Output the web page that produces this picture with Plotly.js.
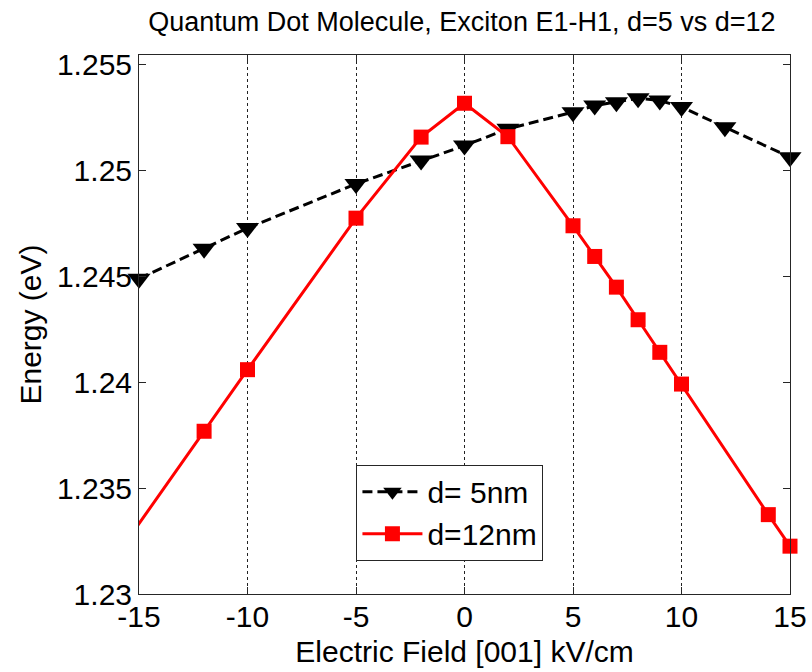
<!DOCTYPE html>
<html>
<head>
<meta charset="utf-8">
<script src="https://cdn.plot.ly/plotly-3.0.1.min.js"></script>
<style>
  html, body { margin: 0; padding: 0; background: #ffffff; }
  #chart { width: 812px; height: 672px; }
</style>
</head>
<body>
<div id="chart"></div>
<script>
// Exciton E1-H1 energy of a quantum dot molecule versus applied field
const fieldD5 = [-15, -12, -10, -5, -2, 0, 2, 5, 6, 7, 8, 9, 10, 12, 15];
const energyD5 = [1.24490, 1.24632, 1.24729, 1.24938, 1.25048, 1.25119, 1.25198,
                  1.25277, 1.25308, 1.25324, 1.25343, 1.25332, 1.25301, 1.25206, 1.25064];

// d = 12 nm run starts below the plotted field window
const fieldD12 = [-16, -12, -10, -5, -2, 0, 2, 5, 6, 7, 8, 9, 10, 14, 15];
const energyD12 = [1.23187, 1.23769, 1.24060, 1.24776, 1.25159, 1.25319, 1.25161,
                   1.24740, 1.24595, 1.24450, 1.24296, 1.24142, 1.23992, 1.23375, 1.23226];

const xTicks = [-15, -10, -5, 0, 5, 10, 15];
const xTickText = ['-15', '-10', '-5', '0', '5', '10', '15'];
const yTicks = [1.23, 1.235, 1.24, 1.245, 1.25, 1.255];
const yTickText = ['1.23', '1.235', '1.24', '1.245', '1.25', '1.255'];

const seriesNames = ['d= 5nm', 'd=12nm'];

const FONT = 'Liberation Sans, Arial, Helvetica, sans-serif';
const AXIS_COLOR = '#262626';

const traces = [
  {
    x: fieldD5, y: energyD5, name: seriesNames[0],
    type: 'scatter', mode: 'lines+markers', cliponaxis: false,
    line: { color: '#000000', width: 3, dash: '10px,5px' },
    marker: { symbol: 'triangle-down', size: 20, color: '#000000', line: { width: 0 } }
  },
  {
    x: fieldD12, y: energyD12, name: seriesNames[1],
    type: 'scatter', mode: 'lines+markers', cliponaxis: false,
    line: { color: '#ff0000', width: 3 },
    marker: { symbol: 'square', size: 15, color: '#ff0000', line: { width: 0 } }
  }
];

const layout = {
  width: 812, height: 672,
  paper_bgcolor: '#ffffff', plot_bgcolor: '#ffffff',
  margin: { l: 139, r: 22, t: 55, b: 78, pad: 0 },
  font: { family: FONT, color: '#000000', size: 30 },
  showlegend: true,
  title: {
    text: 'Quantum Dot Molecule, Exciton E1-H1, d=5 vs d=12',
    font: { family: FONT, size: 27, color: '#000000' },
    x: 0.496, xanchor: 'center', xref: 'paper',
    y: 1 - 22 / 672, yanchor: 'middle', yref: 'container'
  },
  xaxis: {
    range: [-15, 15],
    tickvals: xTicks, ticktext: xTickText,
    ticks: 'inside', ticklen: 7, tickcolor: AXIS_COLOR, tickwidth: 1,
    showline: true, linecolor: AXIS_COLOR, linewidth: 1, mirror: 'ticks',
    showgrid: true, gridcolor: '#222222', gridwidth: 1, griddash: '3px,3px',
    zeroline: false, ticklabelstandoff: -4,
    tickfont: { family: FONT, size: 30, color: '#000000' },
    title: { text: 'Electric Field [001] kV/cm', font: { family: FONT, size: 30, color: '#000000' }, standoff: 8 }
  },
  yaxis: {
    range: [1.23, 1.25547],
    tickvals: yTicks, ticktext: yTickText,
    ticks: 'inside', ticklen: 7, tickcolor: AXIS_COLOR, tickwidth: 1,
    showline: true, linecolor: AXIS_COLOR, linewidth: 1, mirror: 'ticks',
    showgrid: false, zeroline: false,
    tickfont: { family: FONT, size: 30, color: '#000000' },
    title: { text: 'Energy (eV)', font: { family: FONT, size: 30, color: '#000000' }, standoff: 6 }
  },
  legend: {
    x: 0.334, xanchor: 'left', xref: 'paper',
    y: 0.240, yanchor: 'top', yref: 'paper',
    bgcolor: '#ffffff', bordercolor: '#262626', borderwidth: 1,
    font: { family: FONT, size: 30, color: '#000000' },
    itemwidth: 60, tracegroupgap: 0
  }
};

Plotly.newPlot('chart', traces, layout, { displayModeBar: false, staticPlot: true });
</script>
</body>
</html>
